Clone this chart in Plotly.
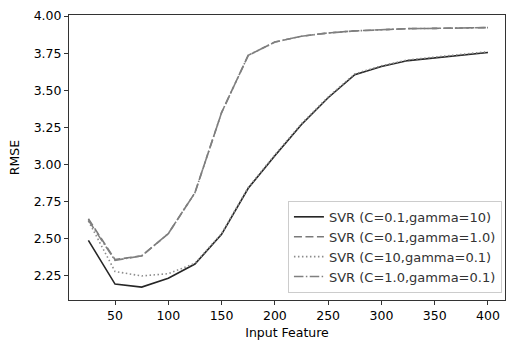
import plotly.graph_objects as go

x_vals = [25, 50, 75, 100, 125, 150, 175, 200, 225, 250, 275, 300, 325, 350, 375, 400]

svr_c01_g10 = [2.49, 2.195, 2.175, 2.235, 2.33, 2.53, 2.84, 3.06, 3.27, 3.45, 3.605, 3.66, 3.70, 3.72, 3.735, 3.755]
svr_c01_g1 = [2.635, 2.36, 2.385, 2.535, 2.81, 3.35, 3.735, 3.825, 3.864, 3.886, 3.90, 3.91, 3.915, 3.917, 3.92, 3.922]
svr_c10_g01 = [2.62, 2.28, 2.25, 2.265, 2.335, 2.535, 2.845, 3.065, 3.275, 3.455, 3.61, 3.665, 3.705, 3.725, 3.74, 3.76]
svr_c1_g01 = [2.625, 2.355, 2.385, 2.535, 2.81, 3.35, 3.735, 3.825, 3.864, 3.886, 3.90, 3.91, 3.915, 3.917, 3.92, 3.922]

names = ["SVR (C=0.1,gamma=10)", "SVR (C=0.1,gamma=1.0)", "SVR (C=10,gamma=0.1)", "SVR (C=1.0,gamma=0.1)"]
series = [svr_c01_g10, svr_c01_g1, svr_c10_g01, svr_c1_g01]
colors = ["#262626", "#7a7a7a", "#8c8c8c", "#808080"]
dashes = ["solid", "8px,3.5px", "1.5px,2.5px", "9.5px,2.4px,1.5px,2.4px"]

fig = go.Figure()
for n, s, c, d in zip(names, series, colors, dashes):
    fig.add_trace(go.Scatter(x=x_vals, y=s, mode="lines", name=n,
                             line=dict(color=c, width=1.6, dash=d)))

font = "DejaVu Sans, Arial, sans-serif"
fig.update_layout(
    width=508, height=340,
    margin=dict(l=69, r=3, t=15, b=40, autoexpand=False),
    paper_bgcolor="white", plot_bgcolor="white",
    font=dict(family=font, size=12.5, color="black"),
    showlegend=True,
    legend=dict(x=0.993, y=0.025, xanchor="right", yanchor="bottom",
                bgcolor="white", bordercolor="#cccccc", borderwidth=1,
                font=dict(size=13, color="#333333"), tracegroupgap=0,
                itemwidth=30),
    xaxis=dict(range=[6.8, 416.0], tickvals=[50, 100, 150, 200, 250, 300, 350, 400],
               automargin=False,
               showgrid=False, zeroline=False, showline=True, linecolor="#333333",
               linewidth=1, mirror=True, ticks="outside", ticklen=4, tickcolor="#333333",
               title=dict(text="Input Feature", font=dict(size=12.5), standoff=13)),
    yaxis=dict(range=[2.088, 4.007], tickvals=[2.25, 2.5, 2.75, 3.0, 3.25, 3.5, 3.75, 4.0],
               tickformat=".2f", automargin=False,
               showgrid=False, zeroline=False, showline=True, linecolor="#333333",
               linewidth=1, mirror=True, ticks="outside", ticklen=4, tickcolor="#333333",
               title=dict(text="RMSE", font=dict(size=12.5), standoff=11)),
)

fig.write_html("out.html")
